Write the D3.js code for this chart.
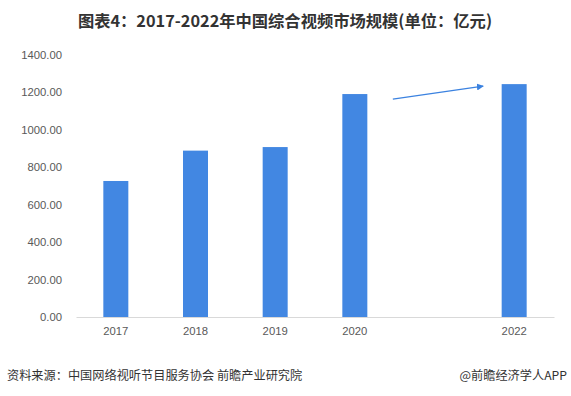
<!DOCTYPE html>
<html>
<head>
<meta charset="utf-8">
<script src="https://d3js.org/d3.v7.min.js"></script>
<style>
body { margin: 0; background: #fff; }
text { font-family: "Noto Sans CJK SC", "Microsoft YaHei", sans-serif; }
</style>
</head>
<body>
<div id="chart"></div>
<script>
// data
var years = ["2017", "2018", "2019", "2020", "2021", "2022"];
var yearLabels = ["2017", "2018", "2019", "2020", "", "2022"];
var marketSize = [726, 888, 907, 1190, null, 1243];
var yTicks = [0, 200, 400, 600, 800, 1000, 1200, 1400];

var W = 571, H = 396;
var svg = d3.select("#chart").append("svg")
    .attr("width", W).attr("height", H);

// title
svg.append("text")
    .attr("x", 285).attr("y", 27)
    .attr("text-anchor", "middle")
    .style("font-size", "16.3px").style("font-weight", "bold")
    .style("fill", "#333")
    .text("图表4：2017-2022年中国综合视频市场规模(单位：亿元)");

var x = d3.scaleBand().domain(years).range([76, 554]);
var y = d3.scaleLinear().domain([0, 1400]).range([317, 54.7]);

// y axis labels
svg.append("g")
  .attr("transform", "translate(62,0)")
  .call(d3.axisLeft(y).tickValues(yTicks).tickSize(0).tickPadding(0)
        .tickFormat(function(d) { return d3.format(".2f")(d); }))
  .call(function(g) { g.select(".domain").remove(); })
  .selectAll("text")
    .style("font-family", "Liberation Sans, Arial, sans-serif")
    .style("font-size", "11.3px").style("fill", "#595959");

// x axis
svg.append("g")
  .attr("transform", "translate(0," + y(0) + ")")
  .call(d3.axisBottom(x).tickSize(0).tickPadding(10)
        .tickFormat(function(d, i) { return yearLabels[i]; }))
  .call(function(g) { g.select(".domain").attr("stroke", "#d9d9d9"); })
  .selectAll("text")
    .style("font-family", "Liberation Sans, Arial, sans-serif")
    .style("font-size", "11.3px").style("fill", "#595959");

// bars
var bw = 25;
var barData = years.map(function(d, i) { return {year: d, v: marketSize[i]}; })
  .filter(function(d) { return d.v != null; });
svg.append("g").selectAll("rect")
  .data(barData)
  .enter()
  .append("rect")
    .attr("x", function(d) { return x(d.year) + x.bandwidth() / 2 - bw / 2; })
    .attr("y", function(d) { return y(d.v); })
    .attr("width", bw)
    .attr("height", function(d) { return y(0) - y(d.v); })
    .style("fill", "#4287e2");

// arrow 2020 -> 2022
var defs = svg.append("defs");
defs.append("marker")
    .attr("id", "arr")
    .attr("viewBox", "0 0 10 10")
    .attr("refX", 9).attr("refY", 5)
    .attr("markerWidth", 7).attr("markerHeight", 7)
    .attr("markerUnits", "userSpaceOnUse")
    .attr("orient", "auto")
  .append("path").attr("d", "M0,0L10,5L0,10Z").style("fill", "#3b82e0");
var x20 = x("2020") + x.bandwidth() / 2, x22 = x("2022") + x.bandwidth() / 2;
svg.append("line")
  .attr("x1", x20 + 38).attr("y1", y(1190) + 5)
  .attr("x2", x22 - 31).attr("y2", y(1243) + 2)
  .attr("stroke", "#3b82e0").attr("stroke-width", 1.2)
  .attr("marker-end", "url(#arr)");

// footer
svg.append("text")
    .attr("x", 7).attr("y", 380)
    .style("font-size", "12.2px").style("fill", "#333")
    .text("资料来源：中国网络视听节目服务协会 前瞻产业研究院");
svg.append("text")
    .attr("x", 567).attr("y", 380)
    .attr("text-anchor", "end")
    .style("font-size", "12.2px").style("fill", "#333")
    .text("@前瞻经济学人APP");
</script>
</body>
</html>
